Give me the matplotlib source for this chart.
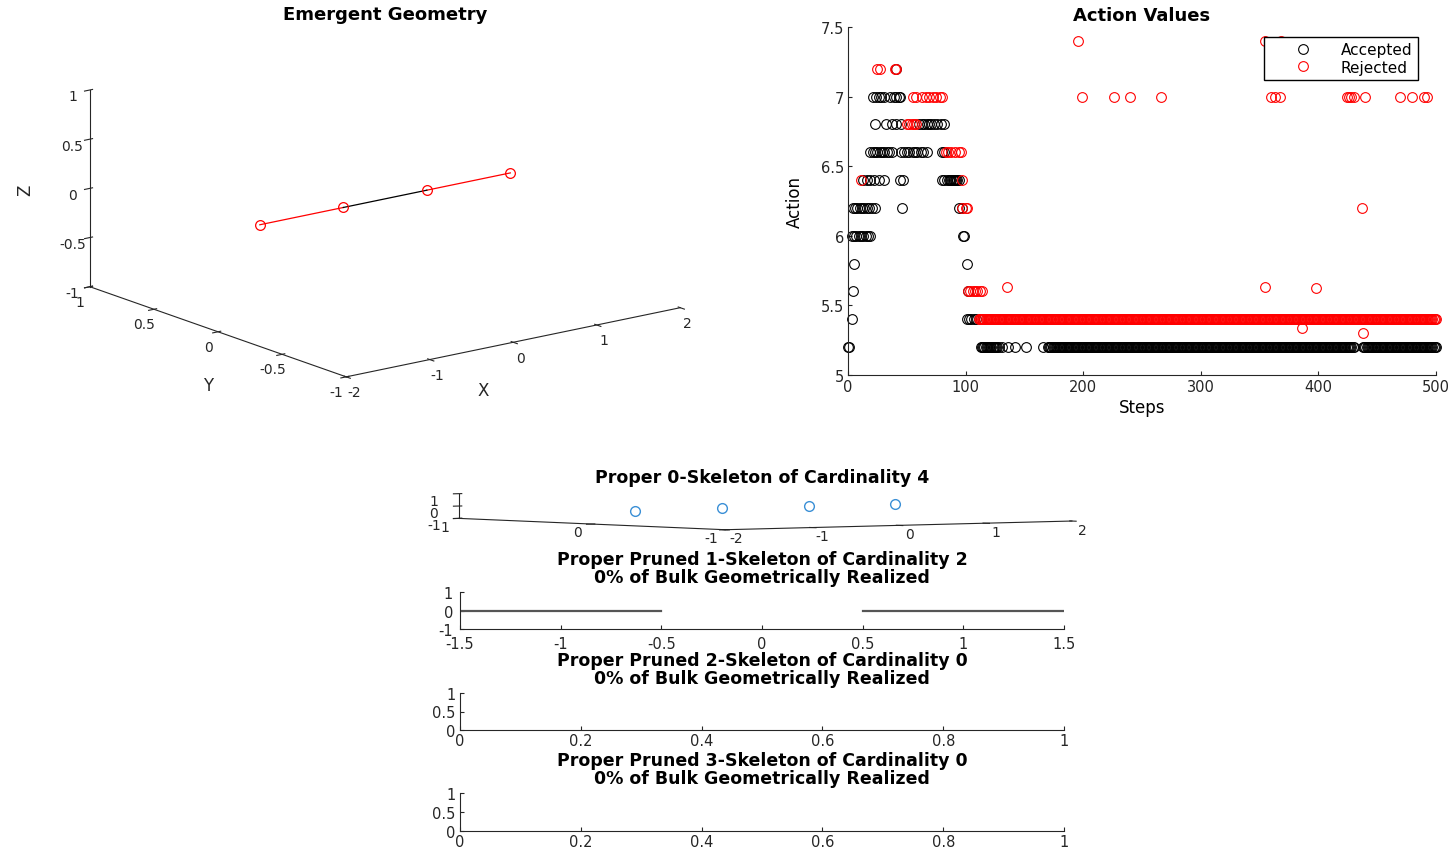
import numpy as np
import matplotlib.pyplot as plt
from matplotlib.ticker import FormatStrFormatter

plt.rcParams['font.family'] = 'DejaVu Sans'
plt.rcParams['axes.unicode_minus'] = False

AXC = '#262626'

# vertices of the emergent geometry (all on the x axis)
vert_x = [-1.5, -0.5, 0.5, 1.5]
vert_y = [0, 0, 0, 0]
vert_z = [0, 0, 0, 0]
red_edges = [(0, 1), (2, 3)]
black_edges = [(1, 2)]

# pruned 1-skeleton edges as (x start, x end) on y = 0
skel1_edges = [(-1.5, -0.5), (0.5, 1.5)]

# accepted actions: one list of steps per action level
acc_levels = [7.2, 7.0, 6.8, 6.6, 6.4, 6.2, 6.0, 5.8, 5.6, 5.4, 5.2]
acc_steps = [
    [41],
    [21, 24, 26, 28, 31, 36, 39, 41, 43, 44],
    [23, 32, 37, 41, 45, 60, 63, 65, 67, 69, 71, 73, 76, 79, 82],
    [19, 21, 23, 25, 27, 29, 31, 33, 35, 37, 45, 48, 50, 52, 55, 57, 59,
     62, 64, 67, 80, 82],
    [13, 16, 19, 22, 26, 31, 44, 47, 80, 82, 84, 86, 87, 88, 89, 90, 91,
     92, 93, 94],
    [4, 6, 8, 10, 12, 14, 16, 18, 20, 23, 46, 94, 97],
    [3, 5, 7, 9, 11, 13, 15, 17, 19, 98, 99],
    [5, 101],
    [4, 102],
    [3, 101, 103, 105, 107, 109],
    [0, 1, 131, 136, 142, 151, 166],
]
# accepted runs at 5.2 where every step is filled (first, last)
acc_52_runs = [(113, 128), (170, 430), (438, 500)]

# rejected actions
rej_levels = [7.4, 7.2, 7.0, 6.8, 6.6, 6.4, 6.2, 5.6]
rej_steps = [
    [196, 355, 368],
    [25, 27, 40, 41],
    [55, 58, 63, 66, 69, 72, 75, 78, 80, 199, 226, 240, 266, 360, 363,
     367, 424, 426, 428, 430, 440, 469, 480, 490, 492],
    [50, 52, 54, 56, 58],
    [83, 85, 88, 91, 94, 96],
    [11, 97],
    [97, 100, 101, 437],
    [102, 104, 106, 108, 110, 112, 114],
]
rej_54_run = (111, 500)
rej_odd_steps = [135, 355, 398, 386, 438]
rej_odd_vals = [5.635, 5.635, 5.628, 5.34, 5.305]

acc_x, acc_y = [], []
for lvl, steps in zip(acc_levels, acc_steps):
    acc_x += steps
    acc_y += [lvl] * len(steps)
for a, b in acc_52_runs:
    run = list(range(a, b + 1))
    acc_x += run
    acc_y += [5.2] * len(run)

rej_x, rej_y = [], []
for lvl, steps in zip(rej_levels, rej_steps):
    rej_x += steps
    rej_y += [lvl] * len(steps)
run = list(range(rej_54_run[0], rej_54_run[1] + 1))
rej_x += run
rej_y += [5.4] * len(run)
rej_x += rej_odd_steps
rej_y += rej_odd_vals


def matlab_3d(ax):
    ax.set_proj_type('ortho')
    ax.set_box_aspect((1, 1, 1))
    ax.view_init(elev=30, azim=-127.5)
    ax.grid(False)
    for a in (ax.xaxis, ax.yaxis, ax.zaxis):
        a.set_pane_color((1, 1, 1, 0))
        a.line.set_color(AXC)
        a.line.set_linewidth(0.8)
        a.set_major_formatter(FormatStrFormatter('%g'))
    ax.tick_params(labelsize=10, colors=AXC, pad=-2)
    # fill the whole rectangle like MATLAB does (no square aspect)
    ax.apply_aspect = lambda position=None: None


def flat_2d(ax):
    for s in ('top', 'right'):
        ax.spines[s].set_visible(False)
    for s in ('left', 'bottom'):
        ax.spines[s].set_color(AXC)
        ax.spines[s].set_linewidth(0.8)
    ax.tick_params(direction='in', length=3, labelsize=10.5, colors=AXC,
                   pad=3)


W, H = 1453, 854
fig = plt.figure(figsize=(W / 100, H / 100), dpi=100)


def rect(left, top, right, bottom):
    return [left / W, 1 - bottom / H, (right - left) / W, (bottom - top) / H]


# ---- Emergent Geometry
ax1 = fig.add_axes(rect(21.5, 14, 729.5, 396), projection='3d')
matlab_3d(ax1)
for i, j in red_edges:
    ax1.plot([vert_x[i], vert_x[j]], [vert_y[i], vert_y[j]],
             [vert_z[i], vert_z[j]], color='r', lw=0.9)
for i, j in black_edges:
    ax1.plot([vert_x[i], vert_x[j]], [vert_y[i], vert_y[j]],
             [vert_z[i], vert_z[j]], color='k', lw=0.9)
ax1.plot(vert_x, vert_y, vert_z, 'o', ls='none', ms=7, mfc='none',
         mec='r', mew=0.9)
ax1.set_xlim(-2, 2)
ax1.set_ylim(-1, 1)
ax1.set_zlim(-1, 1)
ax1.set_xticks([-2, -1, 0, 1, 2])
ax1.set_yticks([-1, -0.5, 0, 0.5, 1])
ax1.set_zticks([-1, -0.5, 0, 0.5, 1])
# axis names placed where MATLAB puts them
ax1.text2D(0.652, 0.012, 'X', transform=ax1.transAxes, fontsize=12,
           ha='center', va='center', color=AXC)
ax1.text2D(0.263, 0.026, 'Y', transform=ax1.transAxes, fontsize=12,
           ha='center', va='center', color=AXC)
ax1.text2D(0.005, 0.539, 'Z', transform=ax1.transAxes, fontsize=12,
           ha='center', va='center', rotation=90, color=AXC)
fig.text(385 / W, 1 - 15 / H, 'Emergent Geometry', fontsize=13,
         fontweight='bold', ha='center', va='center')

# ---- Action Values
ax2 = fig.add_axes(rect(848, 28, 1436, 376))
flat_2d(ax2)
ax2.plot(acc_x, acc_y, 'o', ms=7, mfc='none', mec='k', mew=0.8,
         clip_on=False, label='Accepted')
ax2.plot(rej_x, rej_y, 'o', ms=7, mfc='none', mec='r', mew=0.8,
         clip_on=False, label='Rejected')
ax2.set_xlim(0, 500)
ax2.set_ylim(5, 7.5)
ax2.set_xticks([0, 100, 200, 300, 400, 500])
ax2.set_yticks([5, 5.5, 6, 6.5, 7, 7.5])
ax2.set_yticklabels(['5', '5.5', '6', '6.5', '7', '7.5'])
ax2.set_xlabel('Steps', fontsize=12, labelpad=3)
ax2.set_ylabel('Action', fontsize=12, labelpad=12)
ax2.set_title('Action Values', fontsize=13, fontweight='bold', pad=5)
ax2.legend(loc='upper right', bbox_to_anchor=(0.969, 0.971),
           borderaxespad=0, fancybox=False, edgecolor='k', framealpha=1,
           fontsize=11, handlelength=4.4, handletextpad=0.3,
           borderpad=0.35, labelspacing=0.15)

# ---- Proper 0-Skeleton
ax3 = fig.add_axes(rect(388, 485, 1123, 533), projection='3d')
matlab_3d(ax3)
ax3.plot(vert_x, vert_y, vert_z, 'o', ls='none', ms=7, mfc='none',
         mec='#3a8fd6', mew=1.0)
ax3.set_xlim(-2, 2)
ax3.set_ylim(-1, 1)
ax3.set_zlim(-1, 1)
ax3.set_xticks([-2, -1, 0, 1, 2])
ax3.set_yticks([-1, 0, 1])
ax3.set_zticks([-1, 0, 1])
fig.text(762 / W, 1 - 478 / H, 'Proper 0-Skeleton of Cardinality 4',
         fontsize=12.5, fontweight='bold', ha='center', va='center')

# ---- Pruned 1-Skeleton
ax4 = fig.add_axes(rect(460, 593, 1064, 630))
flat_2d(ax4)
for x0, x1 in skel1_edges:
    ax4.plot([x0, x1], [0, 0], color='#555555', lw=1.6)
ax4.set_xlim(-1.5, 1.5)
ax4.set_ylim(-1, 1)
ax4.set_xticks([-1.5, -1, -0.5, 0, 0.5, 1, 1.5])
ax4.set_xticklabels(['-1.5', '-1', '-0.5', '0', '0.5', '1', '1.5'])
ax4.set_yticks([-1, 0, 1])
ax4.tick_params(axis='x', pad=5)
ax4.tick_params(axis='y', pad=5)
ax4.set_title('Proper Pruned 1-Skeleton of Cardinality 2\n'
              '0% of Bulk Geometrically Realized',
              fontsize=12.5, fontweight='bold', pad=7, linespacing=1.0)

# ---- Pruned 2- and 3-Skeleton (empty)
for k, (top, bot) in zip([2, 3], [(694, 731), (794, 832)]):
    ax = fig.add_axes(rect(460, top, 1064, bot))
    flat_2d(ax)
    ax.set_xlim(0, 1)
    ax.set_ylim(0, 1)
    ax.set_xticks([0, 0.2, 0.4, 0.6, 0.8, 1])
    ax.set_xticklabels(['0', '0.2', '0.4', '0.6', '0.8', '1'])
    ax.set_yticks([0, 0.5, 1])
    ax.set_yticklabels(['0', '0.5', '1'])
    ax.tick_params(axis='x', pad=2)
    ax.set_title(f'Proper Pruned {k}-Skeleton of Cardinality 0\n'
                 '0% of Bulk Geometrically Realized',
                 fontsize=12.5, fontweight='bold', pad=7, linespacing=1.0)

fig.savefig('out.png', dpi=100)
